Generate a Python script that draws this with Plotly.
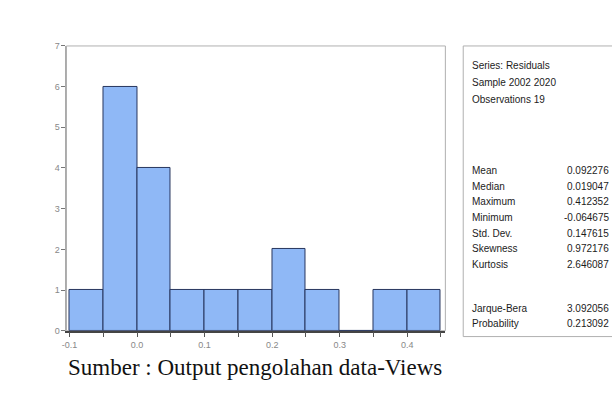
import plotly.graph_objects as go

# ---- data ----
bin_left = [-0.10, -0.05, 0.00, 0.05, 0.10, 0.15, 0.20, 0.25, 0.30, 0.35, 0.40]
counts = [1, 6, 4, 1, 1, 1, 2, 1, 0, 1, 1]
bin_width = 0.05
x_tick_vals = [-0.1, 0.0, 0.1, 0.2, 0.3, 0.4]
x_tick_text = ["-0.1", "0.0", "0.1", "0.2", "0.3", "0.4"]
y_tick_vals = [0, 1, 2, 3, 4, 5, 6, 7]

header_lines = ["Series: Residuals", "Sample 2002 2020", "Observations 19"]
stat_labels = ["Mean", "Median", "Maximum", "Minimum", "Std. Dev.", "Skewness", "Kurtosis"]
stat_values = ["0.092276", "0.019047", "0.412352", "-0.064675", "0.147615", "0.972176", "2.646087"]
test_labels = ["Jarque-Bera", "Probability"]
test_values = ["3.092056", "0.213092"]
caption = "Sumber : Output pengolahan data-Views"

W, H = 612, 403
def px(x):
    return x / W
def py(y):
    return 1 - y / H

centers = [b + bin_width / 2 for b in bin_left]

fig = go.Figure()
fig.add_trace(go.Bar(
    x=centers, y=counts, width=bin_width,
    marker=dict(color="#8fb8f6", line=dict(color="#27365e", width=1)),
    hoverinfo="x+y",
))

plot_l, plot_r, plot_t, plot_b = 62, 444, 42, 334
tickfont = dict(family="Liberation Sans Narrow, Liberation Sans, sans-serif", size=9, color="#888")

fig.update_layout(
    width=W, height=H,
    margin=dict(l=0, r=0, t=0, b=0),
    paper_bgcolor="white", plot_bgcolor="white",
    showlegend=False, bargap=0,
    xaxis=dict(
        domain=[px(plot_l), px(plot_r)],
        range=[-0.1045, 0.4565],
        tickvals=x_tick_vals, ticktext=x_tick_text,
        ticks="outside", ticklen=5, tickcolor="#555",
        minor=dict(dtick=0.05, tick0=0, ticks="outside", ticklen=5, tickcolor="#555", showgrid=False),
        showgrid=False, zeroline=False,
        showline=True, linecolor="#444", linewidth=1.5,
        tickfont=tickfont,
        fixedrange=True,
    ),
    yaxis=dict(
        domain=[py(plot_b), py(plot_t)],
        range=[0, 7],
        tickvals=y_tick_vals,
        ticks="outside", ticklen=4, tickcolor="#777",
        showgrid=False, zeroline=False,
        showline=True, linecolor="#aaa", linewidth=1,
        tickfont=tickfont,
        fixedrange=True,
    ),
)

# frame around plot
fig.add_shape(type="rect", xref="paper", yref="paper",
              x0=px(plot_l), x1=px(plot_r), y0=py(plot_b), y1=py(plot_t),
              line=dict(color="#b0b0b0", width=1), layer="below")

# stats box
box_l, box_t, box_b = 462, 42, 340
fig.add_shape(type="rect", xref="paper", yref="paper",
              x0=px(box_l), x1=px(640), y0=py(box_b), y1=py(box_t),
              line=dict(color="#b0b0b0", width=1))

tf = dict(family="Liberation Sans Narrow, Liberation Sans, sans-serif", size=10, color="#1c1c1c")
lx = 469
vx_right = 611

for i, t in enumerate(header_lines):
    fig.add_annotation(x=px(lx), y=py(62 + i * 17.5), xref="paper", yref="paper",
                       text=t, showarrow=False, xanchor="left", yanchor="middle", font=tf)

for i, (lab, val) in enumerate(zip(stat_labels, stat_values)):
    y = 170 + i * 16
    fig.add_annotation(x=px(lx), y=py(y), xref="paper", yref="paper",
                       text=lab, showarrow=False, xanchor="left", yanchor="middle", font=tf)
    fig.add_annotation(x=px(vx_right), y=py(y), xref="paper", yref="paper",
                       text=val, showarrow=False, xanchor="right", yanchor="middle", font=tf)

for i, (lab, val) in enumerate(zip(test_labels, test_values)):
    y = 311 + i * 16
    fig.add_annotation(x=px(lx), y=py(y), xref="paper", yref="paper",
                       text=lab, showarrow=False, xanchor="left", yanchor="middle", font=tf)
    fig.add_annotation(x=px(vx_right), y=py(y), xref="paper", yref="paper",
                       text=val, showarrow=False, xanchor="right", yanchor="middle", font=tf)

fig.add_annotation(x=px(62), y=py(372), xref="paper", yref="paper",
                   text=caption, showarrow=False, xanchor="left", yanchor="middle",
                   font=dict(family="Liberation Serif, Times New Roman, serif", size=23, color="#111"))

fig.write_html("out.html", config={"displayModeBar": False},
               post_script="document.body.style.margin='0';document.body.style.overflow='hidden';")
